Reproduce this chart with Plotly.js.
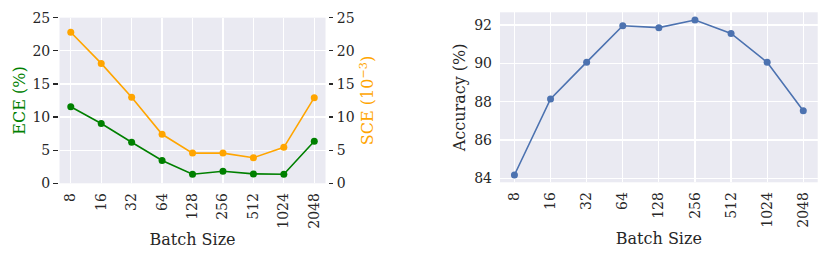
<!DOCTYPE html>
<html>
<head>
<meta charset="utf-8">
<script src="https://cdn.plot.ly/plotly-3.0.1.min.js"></script>
<style>html,body{margin:0;padding:0;background:#fff;}#chart{width:830px;height:260px;}</style>
</head>
<body>
<div id="chart"></div>
<script>
const batchSizes = ['8', '16', '32', '64', '128', '256', '512', '1024', '2048'];
const eceValues = [11.55, 9.03, 6.2, 3.45, 1.37, 1.82, 1.42, 1.37, 6.34];
const sceValues = [22.8, 18.1, 12.98, 7.4, 4.56, 4.56, 3.86, 5.43, 12.93];
const accuracyValues = [84.17, 88.14, 90.06, 91.96, 91.86, 92.26, 91.56, 90.05, 87.52];
const leftTicks = [0, 5, 10, 15, 20, 25];
const rightTicks = [84, 86, 88, 90, 92];

const FONT = 'DejaVu Serif';
const TXT = '#262626';
const BG = '#EAEAF2';

const traces = [
  {x: batchSizes, y: eceValues, xaxis: 'x', yaxis: 'y', type: 'scatter', mode: 'lines+markers',
   line: {color: '#008000', width: 1.6}, marker: {color: '#008000', size: 7}},
  {x: batchSizes, y: sceValues, xaxis: 'x', yaxis: 'y2', type: 'scatter', mode: 'lines+markers',
   line: {color: '#FFA500', width: 1.6}, marker: {color: '#FFA500', size: 7}},
  {x: batchSizes, y: accuracyValues, xaxis: 'x3', yaxis: 'y3', type: 'scatter', mode: 'lines+markers',
   line: {color: '#4C72B0', width: 1.6}, marker: {color: '#4C72B0', size: 7}}
];

const xCommon = {
  type: 'category', tickangle: -90, showline: false, zeroline: false,
  gridcolor: '#ffffff', gridwidth: 1.2, ticks: '', ticklabelstandoff: 6,
  tickfont: {family: FONT, size: 14, color: TXT},
  title: {text: 'Batch Size', font: {family: FONT, size: 16, color: TXT}, standoff: 6}
};

const layout = {
  width: 830, height: 260,
  margin: {l: 0, r: 0, t: 0, b: 0},
  paper_bgcolor: '#ffffff', plot_bgcolor: BG,
  showlegend: false,
  font: {family: FONT, color: TXT},
  xaxis: Object.assign({}, xCommon, {domain: [0.0717, 0.3922], range: [-0.37, 8.37], anchor: 'y'}),
  yaxis: {
    domain: [0.295, 0.932], range: [0, 25], tickvals: leftTicks,
    anchor: 'free', position: 0.0693, showline: false, zeroline: false,
    gridcolor: '#ffffff', gridwidth: 1.2,
    ticks: 'outside', ticklen: 4.5, tickwidth: 1.2, tickcolor: TXT, ticklabelstandoff: 0,
    tickfont: {family: FONT, size: 14, color: TXT},
    title: {text: 'ECE (%)', font: {family: FONT, size: 16, color: '#008000'}, standoff: 1}
  },
  yaxis2: {
    overlaying: 'y', side: 'right', range: [0, 25], tickvals: leftTicks,
    anchor: 'free', position: 0.3952, showline: false, zeroline: false, showgrid: false,
    ticks: 'outside', ticklen: 4, tickwidth: 1.2, tickcolor: TXT, ticklabelstandoff: 1,
    tickfont: {family: FONT, size: 14, color: TXT},
    title: {text: 'SCE (10<sup>\u22123</sup>)', font: {family: FONT, size: 16, color: '#FFA500'}, standoff: 8}
  },
  xaxis3: Object.assign({}, xCommon, {domain: [0.6024, 0.9852], range: [-0.4, 8.4], anchor: 'y3'}),
  yaxis3: {
    domain: [0.2988, 0.9527], range: [83.79, 92.66], tickvals: rightTicks,
    anchor: 'x3', showline: false, zeroline: false,
    gridcolor: '#ffffff', gridwidth: 1.2, ticks: '', ticklabelstandoff: 7,
    tickfont: {family: FONT, size: 14, color: TXT},
    title: {text: 'Accuracy (%)', font: {family: FONT, size: 16, color: TXT}, standoff: 4}
  }
};

Plotly.newPlot('chart', traces, layout, {displayModeBar: false, staticPlot: true});
</script>
</body>
</html>
